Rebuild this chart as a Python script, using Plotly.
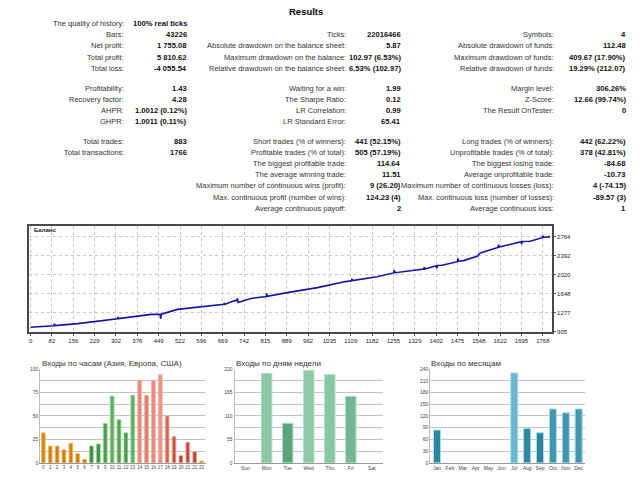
import plotly.graph_objects as go

# ---------------- DATA ----------------
report_title = "Results"
col1_labels = ["The quality of history:", "Bars:", "Net profit:", "Total profit:", "Total loss:",
               "Profitability:", "Recovery factor:", "AHPR:", "GHPR:",
               "Total trades:", "Total transactions:"]
col1_values = ["100% real ticks", "43226", "1 755.08", "5 810.62", "-4 055.54",
               "1.43", "4.28", "1.0012 (0.12%)", "1.0011 (0.11%)",
               "883", "1766"]
col1_rows = [0, 1, 2, 3, 4, 5, 6, 7, 8, 9, 10]

col2_labels = ["Ticks:", "Absolute drawdown on the balance sheet:", "Maximum drawdown on the balance:",
               "Relative drawdown on the balance sheet:", "Waiting for a win:", "The Sharpe Ratio:",
               "LR Correlation:", "LR Standard Error:", "Short trades (% of winners):",
               "Profitable trades (% of total):", "The biggest profitable trade:",
               "The average winning trade:", "Maximum number of continuous wins (profit):",
               "Max. continuous profit (number of wins):", "Average continuous payoff:"]
col2_values = ["22016466", "5.87", "102.97 (6.53%)", "6.53% (102.97)", "1.99", "0.12", "0.99", "65.41",
               "441 (52.15%)", "505 (57.19%)", "114.64", "11.51", "9 (26.20)", "124.23 (4)", "2"]
col2_rows = [1, 2, 3, 4, 5, 6, 7, 8, 9, 10, 11, 12, 13, 14, 15]

col3_labels = ["Symbols:", "Absolute drawdown of funds:", "Maximum drawdown of funds:",
               "Relative drawdown of funds:", "Margin level:", "Z-Score:", "The Result OnTester:",
               "Long trades (% of winners):", "Unprofitable trades (% of total):",
               "The biggest losing trade:", "Average unprofitable trade:",
               "Maximum number of continuous losses (loss):", "Max. continuous loss (number of losses):",
               "Average continuous loss:"]
col3_values = ["4", "112.48", "409.67 (17.90%)", "19.29% (212.07)", "306.26%", "12.66 (99.74%)", "0",
               "442 (62.22%)", "378 (42.81%)", "-84.68", "-10.73", "4 (-74.15)", "-89.57 (3)", "1"]
col3_rows = [1, 2, 3, 4, 5, 6, 7, 9, 10, 11, 12, 13, 14, 15]

balance_label = "Баланс"
balance_x = [0, 48, 80, 82, 84, 163, 278, 300, 302, 304, 416, 447, 449, 451, 507, 600, 645, 667, 669, 671,
             702, 712, 714, 716, 760, 813, 815, 817, 886, 990, 1087, 1107, 1109, 1111, 1196, 1253, 1255, 1257,
             1271, 1345, 1357, 1359, 1361, 1400, 1402, 1404, 1420, 1473, 1475, 1477, 1494, 1541, 1552, 1613,
             1615, 1617, 1693, 1695, 1697, 1724, 1766, 1768, 1770, 1793]
balance_y = [996, 1015, 1025, 1062, 1027, 1066, 1150, 1160, 1195, 1165, 1248, 1250, 1160, 1252, 1345, 1400,
             1434, 1445, 1470, 1448, 1512, 1525, 1560, 1480, 1560, 1596, 1660, 1600, 1674, 1771, 1890, 1905,
             1945, 1908, 1984, 2060, 2112, 2066, 2074, 2126, 2135, 2178, 2138, 2200, 2150, 2204, 2210, 2280,
             2345, 2290, 2301, 2384, 2450, 2560, 2612, 2566, 2670, 2625, 2675, 2680, 2750, 2790, 2755, 2772]
balance_xtick_labels = ["0", "82", "156", "229", "302", "376", "449", "522", "596", "669", "742", "815",
                        "889", "962", "1035", "1109", "1182", "1255", "1329", "1402", "1475", "1548",
                        "1622", "1695", "1768"]
balance_yticks = [905, 1277, 1648, 2020, 2392, 2764]

hours_title = "Входы по часам (Азия, Европа, США)"
hours = list(range(24))
hours_values = [32, 18, 18, 14, 21, 10, 4, 18, 20, 42, 71, 46, 32, 72, 88, 72, 88, 94, 50, 28, 8, 22, 12, 2]
hours_session = ["asia"] * 7 + ["europe"] * 7 + ["usa"] * 9 + ["asia"]

days_title = "Входы по дням недели"
days = ["Sun", "Mon", "Tue", "Wed", "Thu", "Fri", "Sat"]
days_values = [0, 210, 93, 217, 207, 156, 0]

months_title = "Входы по месяцам"
months = ["Jan", "Feb", "Mar", "Apr", "May", "Jun", "Jul", "Aug", "Sep", "Oct", "Nov", "Dec"]
months_values = [84, 0, 0, 0, 0, 0, 230, 88, 77, 138, 128, 138]

# ---------------- STYLE ----------------
W, H = 640, 480
FONT = "Liberation Sans, Arial, sans-serif"
row_y = [20.5, 32, 43.5, 54.8, 66, 86.5, 97.7, 109, 120.3, 140.7, 151.7, 162.8, 174, 185.3, 196.5, 207.7]
cols = [(125, 188, col1_labels, col1_values, col1_rows),
        (348, 403, col2_labels, col2_values, col2_rows),
        (556, 628, col3_labels, col3_values, col3_rows)]


def px(x):
    return x / W


def py(y):
    return 1 - y / H


def mix(c1, c2, t):
    t = max(0.0, min(1.0, t))
    a = [int(c1[i:i + 2], 16) for i in (1, 3, 5)]
    b = [int(c2[i:i + 2], 16) for i in (1, 3, 5)]
    return "#%02x%02x%02x" % tuple(round(a[k] + (b[k] - a[k]) * t) for k in range(3))


fig = go.Figure()
annotations = []

annotations.append(dict(text="<b>%s</b>" % report_title, x=px(305), y=py(8.5), xref="paper", yref="paper",
                        xanchor="center", yanchor="middle", showarrow=False,
                        font=dict(family=FONT, size=9.5, color="#000")))
for lab_x, val_x, labels, values, rows in cols:
    for lab, val, r in zip(labels, values, rows):
        annotations.append(dict(text=lab, x=px(lab_x), y=py(row_y[r]), xref="paper", yref="paper",
                                xanchor="right", yanchor="middle", showarrow=False,
                                font=dict(family=FONT, size=7.5, color="#333")))
        annotations.append(dict(text="<b>%s</b>" % val, x=px(val_x), y=py(row_y[r]), xref="paper",
                                yref="paper", xanchor="right", yanchor="middle", showarrow=False,
                                font=dict(family=FONT, size=7.6, color="#111")))

# ---------------- BALANCE ----------------
fig.add_trace(go.Scatter(x=balance_x, y=balance_y, mode="lines", line=dict(color="#1414a8", width=1.6),
                         xaxis="x", yaxis="y", showlegend=False, hoverinfo="skip"))
step = 1768 / (len(balance_xtick_labels) - 1)
xtickvals = [i * step for i in range(len(balance_xtick_labels))]

annotations.append(dict(text="<b>%s</b>" % balance_label, x=px(31), y=py(230), xref="paper", yref="paper",
                        xanchor="left", yanchor="middle", showarrow=False,
                        font=dict(family=FONT, size=6, color="#222")))

# ---------------- BOTTOM BAR CHARTS ----------------
sess_col = {"asia": ("#c06a00", "#f4b848", "#f6c46a"),
            "europe": ("#2a7a2a", "#7cc87c", "#96d696"),
            "usa": ("#a32810", "#f4a494", "#f6b4a6")}
h_colors, h_lines = [], []
for v, s in zip(hours_values, hours_session):
    dark, light, edge = sess_col[s]
    h_colors.append(mix(dark, light, 0.15 + 0.75 * v / 100))
    h_lines.append(edge)
fig.add_trace(go.Bar(x=hours, y=hours_values, marker=dict(color=h_colors, line=dict(color=h_lines, width=0.8)),
                     width=0.55, xaxis="x2", yaxis="y2", showlegend=False, hoverinfo="skip"))

d_colors = [mix("#2b7d50", "#a8dcc0", 0.1 + 0.7 * v / 220) for v in days_values]
d_lw = [1 if v > 0 else 0 for v in days_values]
fig.add_trace(go.Bar(x=days, y=days_values, marker=dict(color=d_colors, line=dict(color="#a8e6c2", width=d_lw)),
                     width=0.5, xaxis="x3", yaxis="y3", showlegend=False, hoverinfo="skip"))

m_colors = [mix("#005c7c", "#8ad2e4", 0.1 + 0.7 * v / 240) for v in months_values]
m_lw = [1 if v > 0 else 0 for v in months_values]
fig.add_trace(go.Bar(x=months, y=months_values, marker=dict(color=m_colors, line=dict(color="#a6e0ef", width=m_lw)),
                     width=0.55, xaxis="x4", yaxis="y4", showlegend=False, hoverinfo="skip"))

for t, x0 in ((hours_title, 39), (days_title, 233), (months_title, 429)):
    annotations.append(dict(text=t, x=px(x0), y=py(365), xref="paper", yref="paper", xanchor="left",
                            yanchor="middle", showarrow=False, font=dict(family=FONT, size=8, color="#333")))

small = dict(family=FONT, size=5, color="#444")
bot_dom_y = [py(465.7), py(370.7)]

layout = dict(
    width=W, height=H, margin=dict(l=0, r=0, t=0, b=0), paper_bgcolor="white", plot_bgcolor="white",
    bargap=0.4, annotations=annotations,
    xaxis=dict(domain=[px(28.5), px(552)], range=[-4, 1800], tickvals=xtickvals, ticktext=balance_xtick_labels,
               showgrid=True, gridcolor="#c8c8c8", griddash="dot", gridwidth=1, zeroline=False,
               showline=True, linecolor="#4a4a4a", linewidth=1.5, mirror=True, ticks="outside", ticklen=2,
               tickcolor="#555", tickfont=dict(family=FONT, size=6, color="#222"), anchor="y", tickangle=0),
    yaxis=dict(domain=[py(333), py(226)], range=[905, 2976], tickvals=balance_yticks, side="right",
               showgrid=True, gridcolor="#c8c8c8", griddash="dot", gridwidth=1, zeroline=False,
               showline=True, linecolor="#4a4a4a", linewidth=1.5, mirror=True, ticks="outside", ticklen=2,
               tickcolor="#555", tickfont=dict(family=FONT, size=6, color="#222"), anchor="x"),
    xaxis2=dict(domain=[px(39.3), px(205)], range=[-0.45, 23.6], anchor="y2", tickmode="array",
                tickvals=hours, ticktext=[str(h) for h in hours], ticklabeloverflow="allow",
                tickfont=dict(family=FONT, size=4.5, color="#444"), tickangle=0, showgrid=False,
                zeroline=False, showline=True, linecolor="#999", linewidth=1, ticks=""),
    yaxis2=dict(domain=bot_dom_y, range=[0, 100], tickvals=[0, 25, 50, 75, 100], anchor="x2", tickfont=small,
                showgrid=True, gridcolor="#c4c4c4", gridwidth=1, zeroline=False, showline=True,
                linecolor="#bbb", minor=dict(dtick=12.5, showgrid=True, gridcolor="#c4c4c4", gridwidth=1)),
    xaxis3=dict(domain=[px(234), px(383)], range=[-0.52, 6.55], anchor="y3", tickfont=small, tickangle=0,
                ticklabeloverflow="allow", showline=True, linecolor="#999", linewidth=1, ticks=""),
    yaxis3=dict(domain=bot_dom_y, range=[0, 220], tickvals=[0, 55, 110, 165, 220], anchor="x3", tickfont=small,
                showgrid=True, gridcolor="#c4c4c4", gridwidth=1, zeroline=False, showline=True,
                linecolor="#bbb", minor=dict(dtick=27.5, showgrid=True, gridcolor="#c4c4c4", gridwidth=1)),
    xaxis4=dict(domain=[px(430), px(585)], range=[-0.52, 11.5], anchor="y4", tickfont=small, tickangle=0,
                ticklabeloverflow="allow", showline=True, linecolor="#999", linewidth=1, ticks=""),
    yaxis4=dict(domain=bot_dom_y, range=[0, 240], tickvals=list(range(0, 241, 30)), anchor="x4",
                tickfont=small, showgrid=True, gridcolor="#c4c4c4", gridwidth=1, zeroline=False,
                showline=True, linecolor="#bbb"),
)
fig.update_layout(**layout)
fig.write_html("out.html", config={"displayModeBar": False},
               post_script="document.body.style.margin='0';")
